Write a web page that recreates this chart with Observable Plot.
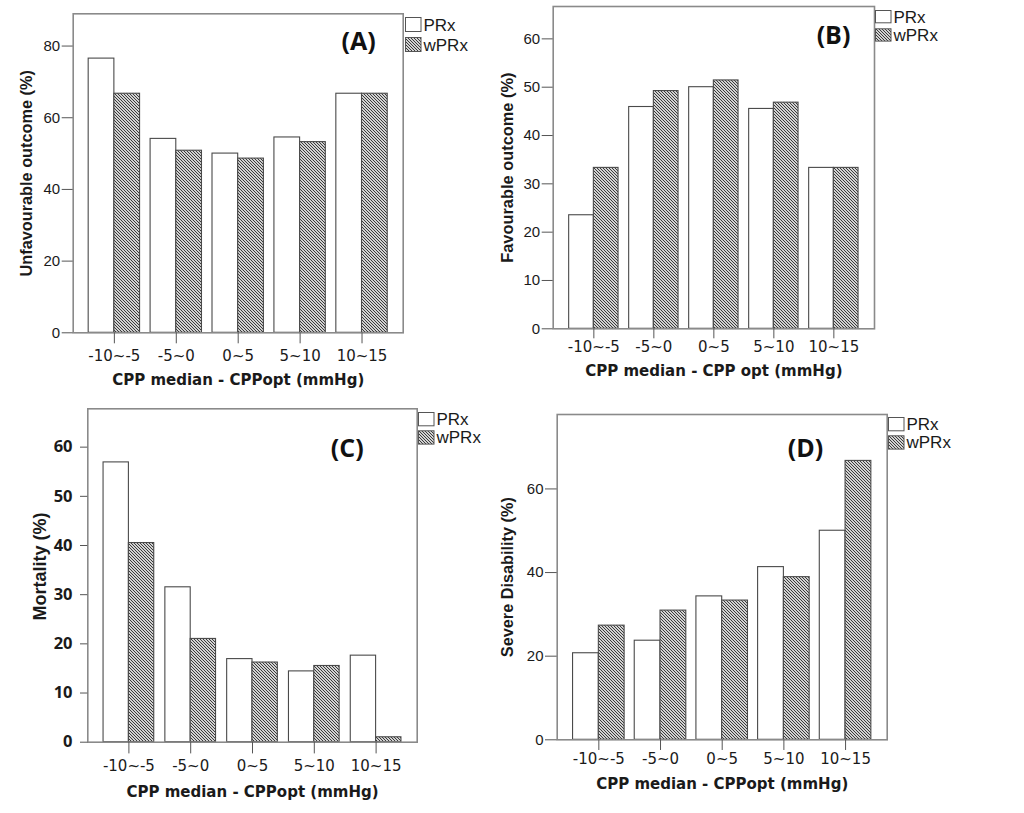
<!DOCTYPE html>
<html><head><meta charset="utf-8">
<script src="https://cdn.jsdelivr.net/npm/d3@7"></script>
<script src="https://cdn.jsdelivr.net/npm/@observablehq/plot@0.6"></script>
<style>
body{margin:0;background:#fff;}
#page{position:relative;width:1024px;height:813px;overflow:hidden;background:#fff;}
</style></head>
<body>
<svg width="0" height="0" style="position:absolute;left:0;top:0">
<defs><pattern id="hatch" patternUnits="userSpaceOnUse" width="3" height="3">
<rect width="3" height="3" fill="#d2d2d2"/>
<path d="M-1,-1L4,4M-1,2L1,4M2,-1L4,1" stroke="#333" stroke-width="0.95"/>
</pattern></defs></svg>
<div id="page"></div>
<script>
// ---- data ----
const categories = ["-10~-5", "-5~0", "0~5", "5~10", "10~15"];
const series = ["PRx", "wPRx"];
const unfavPRx  = [76.5, 54.1, 50.0, 54.5, 66.7];
const unfavWPRx = [66.7, 50.8, 48.6, 53.2, 66.7];
const favPRx    = [23.5, 45.9, 50.0, 45.5, 33.3];
const favWPRx   = [33.3, 49.2, 51.4, 46.8, 33.3];
const mortPRx   = [56.9, 31.5, 16.9, 14.4, 17.6];
const mortWPRx  = [40.5, 21.0, 16.2, 15.5, 1.0];
const sevPRx    = [20.7, 23.7, 34.3, 41.3, 50.0];
const sevWPRx   = [27.3, 30.9, 33.3, 38.9, 66.7];
const ticksA = [0, 20, 40, 60, 80];
const ticksB = [0, 10, 20, 30, 40, 50, 60];
const ticksC = [0, 10, 20, 30, 40, 50, 60];
const ticksD = [0, 20, 40, 60];
const ymaxA = 89, ymaxB = 66.7, ymaxC = 67.8, ymaxD = 77.8;
const titlesY = ["Unfavourable outcome (%)", "Favourable outcome (%)", "Mortality (%)", "Severe Disability (%)"];
const titlesX = ["CPP median - CPPopt (mmHg)", "CPP median - CPP opt (mmHg)", "CPP median - CPPopt (mmHg)", "CPP median - CPPopt (mmHg)"];
const letters = ["(A)", "(B)", "(C)", "(D)"];

// ---- layout / style ----
const panels = [
  {prx: unfavPRx, wprx: unfavWPRx, ticks: ticksA, ymax: ymaxA, left: 0, top: 0, w: 470, h: 400,
   ml: 72.7, mr: 67.3, mt: 13.3, mb: 67.7, pi: 0.17, po: 0.25,
   xTick: 11, xPad: 6.4, yTick: 11, yPad: 2, yFont: "'Liberation Sans', Arial, sans-serif", yWeight: "normal", yFontSize: 15,
   ytdx: -46.7, ytdy: 0, ytSize: 16.3, xtdy: 47.7, ldx: -44.7, ldy: 28.4,
   leg: {x: 405, y: 17.3, bh: 14, gap: 20}},
  {prx: favPRx, wprx: favWPRx, ticks: ticksB, ymax: ymaxB, left: 480, top: 0, w: 500, h: 400,
   ml: 72.7, mr: 106, mt: 6, mb: 71.7, pi: 0.177, po: 0.266,
   xTick: 10, xPad: 3, yTick: 11, yPad: 2, yFont: "'Liberation Sans', Arial, sans-serif", yWeight: "normal", yFontSize: 15,
   ytdx: -45.7, ytdy: 0, ytSize: 16.4, xtdy: 42.4, ldx: -41, ldy: 29,
   leg: {x: 875, y: 10, bh: 12.3, gap: 18.3}},
  {prx: mortPRx, wprx: mortWPRx, ticks: ticksC, ymax: ymaxC, left: 0, top: 400, w: 490, h: 413,
   ml: 87.3, mr: 73.3, mt: 8.3, mb: 71.3, pi: 0.18, po: 0.255,
   xTick: 11.7, xPad: 6.3, yTick: 7.3, yPad: 8, yFont: "'Open Sans', Lato, sans-serif", yWeight: "bold", yFontSize: 16.5,
   ytdx: -47.3, ytdy: -9, ytSize: 18, xtdy: 50, ldx: -70, ldy: 40,
   leg: {x: 418.3, y: 411.7, bh: 13.3, gap: 18.3}},
  {prx: sevPRx, wprx: sevWPRx, ticks: ticksD, ymax: ymaxD, left: 490, top: 400, w: 500, h: 413,
   ml: 66.7, mr: 103.3, mt: 14, mb: 73.7, pi: 0.164, po: 0.257,
   xTick: 10.7, xPad: 3, yTick: 11.7, yPad: 2, yFont: "'Liberation Sans', Arial, sans-serif", yWeight: "normal", yFontSize: 15,
   ytdx: -49.2, ytdy: 0, ytSize: 16.3, xtdy: 44, ldx: -81.7, ldy: 34.3,
   leg: {x: 888.3, y: 416.7, bh: 13.3, gap: 18.3}}
];

const page = document.getElementById("page");
const ink = "#1a1a1a";

panels.forEach((cfg, k) => {
  const prxData = categories.map((c, i) => ({cat: c, series: series[0], value: cfg.prx[i]}));
  const wprxData = categories.map((c, i) => ({cat: c, series: series[1], value: cfg.wprx[i]}));
  const pw = cfg.w - cfg.ml - cfg.mr;
  const step = pw / (categories.length - cfg.pi + 2 * cfg.po);
  const bw = step * (1 - cfg.pi);
  const svg = Plot.plot({
    width: cfg.w, height: cfg.h,
    marginLeft: cfg.ml, marginRight: cfg.mr, marginTop: cfg.mt, marginBottom: cfg.mb,
    style: {background: "transparent", overflow: "visible", fontFamily: "'DejaVu Sans', sans-serif", fontSize: "15px", color: ink},
    x: {domain: categories, paddingInner: cfg.pi, paddingOuter: cfg.po, round: false, label: null, axis: null},
    y: {domain: [0, cfg.ymax], label: null, axis: null},
    marks: [
      Plot.barY(prxData, {x: "cat", y: "value", fill: "white", stroke: "#4a4a4a", strokeWidth: 1.1, insetRight: bw / 2}),
      Plot.barY(wprxData, {x: "cat", y: "value", fill: "url(#hatch)", stroke: "#4a4a4a", strokeWidth: 1.1, insetLeft: bw / 2}),
      Plot.frame({stroke: "#8a8a8a", strokeWidth: 1.6}),
      Plot.axisX({tickSize: cfg.xTick, tickPadding: cfg.xPad, stroke: "#555", fontFamily: "'DejaVu Sans', sans-serif", fontSize: 15, fill: ink, label: null}),
      Plot.axisY({ticks: cfg.ticks, tickSize: cfg.yTick, tickPadding: cfg.yPad, stroke: "#555", fontFamily: cfg.yFont, fontWeight: cfg.yWeight, fontSize: cfg.yFontSize, fill: ink, label: null}),
      Plot.text([titlesY[k]], {text: d => d, frameAnchor: "left", dx: cfg.ytdx, dy: cfg.ytdy, rotate: -90, textAnchor: "middle", lineAnchor: "middle", fontFamily: "'Liberation Sans', Arial, sans-serif", fontWeight: "bold", fontSize: cfg.ytSize, fill: ink}),
      Plot.text([titlesX[k]], {text: d => d, frameAnchor: "bottom", dy: cfg.xtdy, textAnchor: "middle", lineAnchor: "middle", fontFamily: "'DejaVu Sans', sans-serif", fontWeight: "bold", fontSize: 15, fill: ink}),
      Plot.text([letters[k]], {text: d => d, frameAnchor: "top-right", dx: cfg.ldx, dy: cfg.ldy, textAnchor: "middle", lineAnchor: "middle", fontFamily: "'Open Sans', sans-serif", fontWeight: "bold", fontSize: 25, fill: "#111"})
    ]
  });
  svg.style.position = "absolute";
  svg.style.left = cfg.left + "px";
  svg.style.top = cfg.top + "px";
  page.appendChild(svg);

  // legend
  const L = cfg.leg;
  const lg = d3.select(page).append("svg")
    .style("position", "absolute").style("left", L.x + "px").style("top", L.y + "px")
    .attr("width", 80).attr("height", 44).style("overflow", "visible");
  series.forEach((s, j) => {
    lg.append("rect").attr("x", 0.5).attr("y", 0.5 + j * L.gap).attr("width", 15.5).attr("height", L.bh)
      .attr("fill", j === 0 ? "white" : "url(#hatch)").attr("stroke", "#555").attr("stroke-width", 1);
    lg.append("text").attr("x", 18.5).attr("y", j * L.gap + L.bh / 2 + 6.5)
      .attr("font-family", "'Liberation Sans', Arial, sans-serif").attr("font-size", 17).attr("fill", ink).text(s);
  });
});
</script>
</body></html>
